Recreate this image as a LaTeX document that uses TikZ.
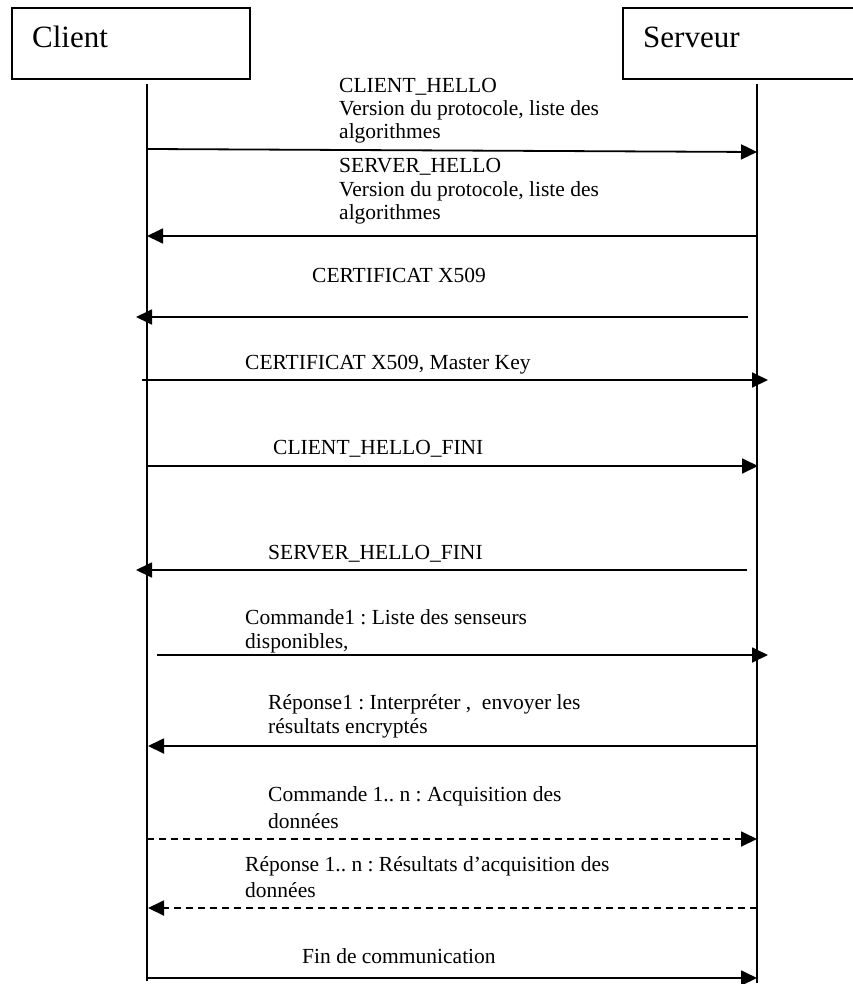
\documentclass[tikz,border=0pt]{standalone}
\usepackage{fontspec}
\setmainfont{Liberation Serif}
\usetikzlibrary{arrows.meta}
\frenchspacing

% multi-line message text; #1 = line pitch, #2 = lines
\newcommand\msgtext[2]{\fontsize{21.5}{#1}\selectfont\begin{tabular}[t]{@{}l@{}}#2\end{tabular}}

\tikzset{
  actorbox/.style={draw, line width=1.8pt, anchor=north west, inner sep=0pt,
                   minimum width=238pt, minimum height=71pt},
  actorname/.style={anchor=base west, inner sep=0pt, font=\fontsize{31}{36}\selectfont},
  lifeline/.style={line width=1.6pt},
  msg/.style={line width=1.8pt, -{Triangle[length=16pt,width=15pt]}},
  msgdashed/.style={msg, dash pattern=on 7pt off 5pt},
  msglabel/.style={anchor=base west, inner sep=0pt},
}

\begin{document}
\begin{tikzpicture}[x=1pt,y=-1pt]
  \useasboundingbox (0,0) rectangle (852,984);

  % participants
  \node[actorbox] (clientbox) at (11,7) {};
  \node[actorbox] (serverbox) at (622,7) {};
  \node[actorname] (clientname) at (32,48) {Client};
  \node[actorname] (servername) at (643,48) {Serveur};

  % lifelines
  \coordinate (ctop) at (147,84);  \coordinate (cbot) at (147,981);
  \coordinate (stop) at (757,84);  \coordinate (sbot) at (757,983);
  \draw[lifeline] (ctop) -- (cbot);
  \draw[lifeline] (stop) -- (sbot);

  % message end points
  \coordinate (m1a) at (147,149);  \coordinate (m1b) at (757,152);
  \coordinate (m2a) at (757,236);  \coordinate (m2b) at (147,236);
  \coordinate (m3a) at (748,317);  \coordinate (m3b) at (136,317);
  \coordinate (m4a) at (142,380);  \coordinate (m4b) at (768,380);
  \coordinate (m5a) at (147,466);  \coordinate (m5b) at (758,466);
  \coordinate (m6a) at (747,570);  \coordinate (m6b) at (136,570);
  \coordinate (m7a) at (157,655);  \coordinate (m7b) at (768,655);
  \coordinate (m8a) at (757,746);  \coordinate (m8b) at (148,746);
  \coordinate (m9a) at (147,839);  \coordinate (m9b) at (757,839);
  \coordinate (m10a) at (757,908); \coordinate (m10b) at (148,908);
  \coordinate (m11a) at (147,978); \coordinate (m11b) at (757,978);

  % messages
  \draw[msg] (m1a) -- (m1b);
  \draw[msg] (m2a) -- (m2b);
  \draw[msg] (m3a) -- (m3b);
  \draw[msg] (m4a) -- (m4b);
  \draw[msg] (m5a) -- (m5b);
  \draw[msg] (m6a) -- (m6b);
  \draw[msg] (m7a) -- (m7b);
  \draw[msg] (m8a) -- (m8b);
  \draw[msgdashed] (m9a) -- (m9b);
  \draw[msgdashed] (m10a) -- (m10b);
  \draw[msg] (m11a) -- (m11b);

  % message labels
  \node[msglabel] (l1) at (339,93)
    {\msgtext{23}{CLIENT\_HELLO\\Version du protocole, liste des\\algorithmes}};
  \node[msglabel] (l2) at (339,173)
    {\msgtext{23.5}{SERVER\_HELLO\\Version du protocole, liste des\\algorithmes}};
  \node[msglabel] (l3) at (312,282) {\msgtext{23}{CERTIFICAT X509}};
  \node[msglabel] (l4) at (245,369) {\msgtext{23}{CERTIFICAT X509, Master Key}};
  \node[msglabel] (l5) at (273,454) {\msgtext{23}{CLIENT\_HELLO\_FINI}};
  \node[msglabel] (l6) at (268,559) {\msgtext{23}{SERVER\_HELLO\_FINI}};
  \node[msglabel] (l7) at (245,624)
    {\msgtext{24}{Commande1 : Liste des senseurs\\disponibles,}};
  \node[msglabel] (l8) at (268,709)
    {\msgtext{24}{Réponse1 : Interpréter ,~ envoyer les\\résultats encryptés}};
  \node[msglabel] (l9) at (268,801)
    {\msgtext{27}{Commande 1.. n : Acquisition des\\données}};
  \node[msglabel] (l10) at (245,871)
    {\msgtext{26}{Réponse 1.. n : Résultats d’acquisition des\\données}};
  \node[msglabel] (l11) at (302,963) {\msgtext{23}{Fin de communication}};
\end{tikzpicture}
\end{document}
